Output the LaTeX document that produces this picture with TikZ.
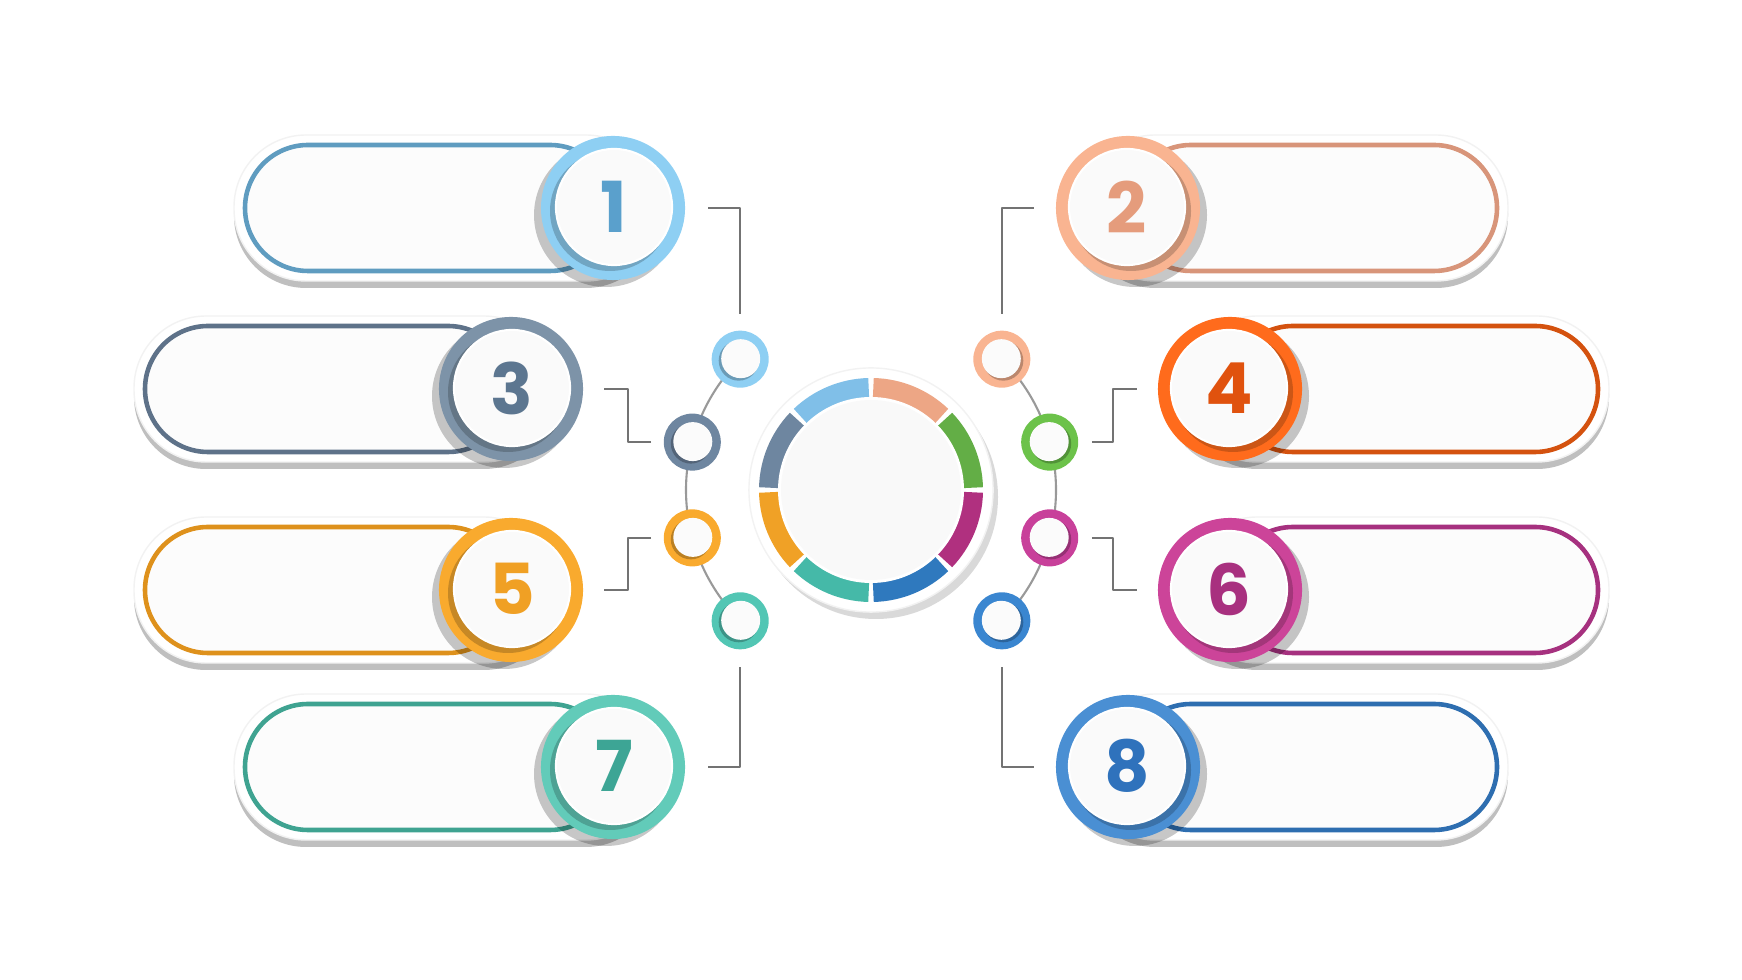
\documentclass[tikz,border=0pt]{standalone}
\usepackage{fontspec}
\setmainfont{Poppins}
\usetikzlibrary{calc}

% badge colours: ring, pill edge, digit
\definecolor{ring1}{HTML}{8ECFF3}\definecolor{edge1}{HTML}{5F9CC0}\definecolor{num1}{HTML}{5AA0CC}
\definecolor{ring2}{HTML}{F9B491}\definecolor{edge2}{HTML}{D8957A}\definecolor{num2}{HTML}{E59C7C}
\definecolor{ring3}{HTML}{7D93A8}\definecolor{edge3}{HTML}{5E7289}\definecolor{num3}{HTML}{5C7690}
\definecolor{ring4}{HTML}{FF6B1C}\definecolor{edge4}{HTML}{D4520F}\definecolor{num4}{HTML}{E0520E}
\definecolor{ring5}{HTML}{F9AA2E}\definecolor{edge5}{HTML}{DE911C}\definecolor{num5}{HTML}{F0A024}
\definecolor{ring6}{HTML}{CC4499}\definecolor{edge6}{HTML}{A6317F}\definecolor{num6}{HTML}{A8307F}
\definecolor{ring7}{HTML}{62CBB9}\definecolor{edge7}{HTML}{3FA391}\definecolor{num7}{HTML}{3DA595}
\definecolor{ring8}{HTML}{4A8FD3}\definecolor{edge8}{HTML}{2E6EB0}\definecolor{num8}{HTML}{2F72BC}
% small circles round the hub
\definecolor{dot1}{HTML}{8ECFF3}\definecolor{dot2}{HTML}{F9B491}
\definecolor{dot3}{HTML}{6E86A0}\definecolor{dot4}{HTML}{6CC24A}
\definecolor{dot5}{HTML}{F9AA2E}\definecolor{dot6}{HTML}{C8409A}
\definecolor{dot7}{HTML}{52C6B4}\definecolor{dot8}{HTML}{3A86D0}
% hub segments
\definecolor{seg1}{HTML}{80BFE8}\definecolor{seg2}{HTML}{EDA685}
\definecolor{seg3}{HTML}{6E86A0}\definecolor{seg4}{HTML}{63AE46}
\definecolor{seg5}{HTML}{F0A126}\definecolor{seg6}{HTML}{B0307F}
\definecolor{seg7}{HTML}{45B9A8}\definecolor{seg8}{HTML}{2F79BE}

\begin{document}
\begin{tikzpicture}[x=0.01cm, y=0.01cm, line cap=round, line join=round,
  badge/.style={circle, inner sep=0pt, minimum size=1.44cm},
  dot/.style={circle, inner sep=0pt, minimum size=0.57cm},
  face/.style={circle, inner sep=0pt, minimum size=1.16cm, fill=white!96!gray,
    draw=white, line width=0.6pt, font=\fontsize{20}{20}\selectfont\bfseries},
  link/.style={draw=gray!90!black, line width=0.7pt, line cap=butt}]
  \useasboundingbox (0,0) rectangle (1742,-980);

  % Hub in the middle, ring of eight coloured pieces
  \fill[gray!30] (876,-497) circle (122);
  \node[circle, fill=white, draw=gray!10, minimum size=2.44cm, inner sep=0pt] (hub) at (871,-490) {};
  \foreach \a/\c in {90/seg1, 45/seg2, 135/seg3, 0/seg4, 180/seg5, -45/seg6, 225/seg7, -90/seg8}
    \draw[\c, line width=0.2cm, line cap=butt] ([shift={({\a+1.3}:102)}]hub.center)
      arc[start angle=\a+1.3, end angle=\a+43.7, radius=102];
  \fill[white] (hub.center) circle (93);
  \fill[white!95!gray] (hub.center) circle (90);

  % Thin arcs holding the small circles
  \draw[gray!80, line width=0.6pt] ([shift={(135:185)}]hub.center) arc[start angle=135, end angle=225, radius=185];
  \draw[gray!80, line width=0.6pt] ([shift={(-45:185)}]hub.center) arc[start angle=-45, end angle=45, radius=185];

  % Small circles
  \foreach \n/\a/\s in {1/135/-1, 3/165/-1, 5/195/-1, 7/225/-1, 2/45/1, 4/15/1, 6/-15/1, 8/-45/1}{
    \node[dot, fill=dot\n] (s\n) at ([shift={(\a:185)}]hub.center) {};
    \fill[dot\n!75!black] ([shift={({1.5*\s},-1.5)}]s\n.center) circle (20);
    \fill[white!97!gray] ([shift={({-0.5*\s},0.5)}]s\n.center) circle (19.5);
  }

  % Pills with numbered badges
  \foreach \n/\x/\y/\e/\s in {1/613/208/245/-1, 3/511/389/145/-1, 5/511/590/145/-1, 7/613/767/245/-1,
                              2/1128/208/1497/1, 4/1230/389/1598/1, 6/1230/590/1598/1, 8/1128/767/1497/1}{
    \fill[gray!50, rounded corners=0.72cm] ({\e+11*\s},-\y-80) rectangle ({\x-45*\s},-\y+66);
    \draw[white!90!gray, fill=white, rounded corners=0.72cm] ({\e+11*\s},-\y-73) rectangle ({\x-45*\s},-\y+73);
    \draw[edge\n, line width=1.3pt, fill=white!98!gray, rounded corners=0.63cm] (\e,-\y-63) rectangle (\x,-\y+63);
    \fill[black, opacity=0.22] ({\x+7*\s},-\y-7) circle (72);
    \node[badge, fill=ring\n] (b\n) at (\x,-\y) {};
    \fill[ring\n!80!black] ([shift={({3*\s},-3)}]b\n.center) circle (60);
    \node[face, text=num\n] (d\n) at ([shift={({-1*\s},1)}]b\n.center) {\n};
  }

  % Connectors
  \draw[link, shorten <=0.16cm, shorten >=0.22cm] (s1.north) |- (b1.east);
  \draw[link, shorten <=0.17cm, shorten >=0.22cm] (s7.south) |- (b7.east);
  \draw[link, shorten <=0.16cm, shorten >=0.21cm] (s2.north) |- (b2.west);
  \draw[link, shorten <=0.17cm, shorten >=0.21cm] (s8.south) |- (b8.west);
  \draw[link, shorten <=0.12cm, shorten >=0.20cm] (s3.west) -- ++(-35,0) |- (b3.east);
  \draw[link, shorten <=0.12cm, shorten >=0.20cm] (s5.west) -- ++(-35,0) |- (b5.east);
  \draw[link, shorten <=0.13cm, shorten >=0.20cm] (s4.east) -- ++(34,0) |- (b4.west);
  \draw[link, shorten <=0.13cm, shorten >=0.20cm] (s6.east) -- ++(34,0) |- (b6.west);
\end{tikzpicture}
\end{document}
